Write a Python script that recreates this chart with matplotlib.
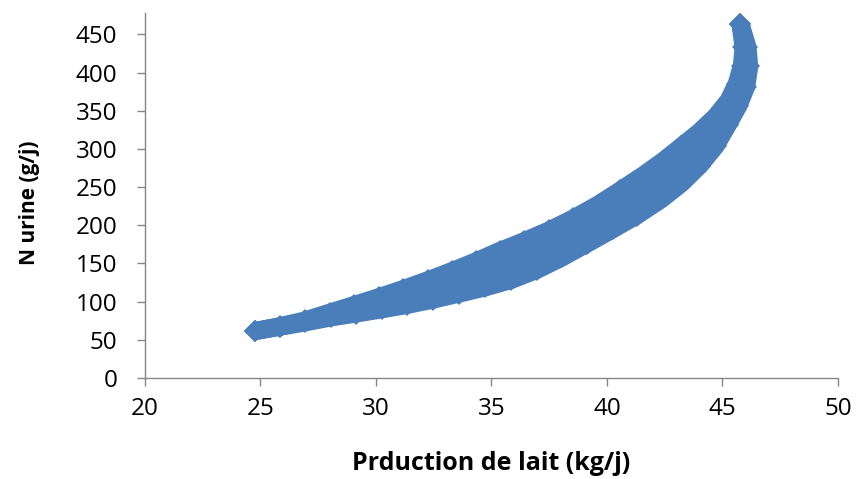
import matplotlib
matplotlib.use('Agg')
from matplotlib import pyplot as plt

# Points: the band is drawn as three rows of diamonds
# (upper edge, middle, lower edge), all meeting at both ends.
midX = [24.77, 25.85, 26.93, 28.02, 29.10, 30.18, 31.27, 32.35, 33.43, 34.52, 35.60, 36.68, 37.76,
        38.85, 39.93, 40.93, 41.97, 42.83, 43.61, 44.35, 44.96, 45.48, 45.82, 46.00, 46.00, 45.78]
midY = [61.5, 67.4, 74.0, 82.5, 90.0, 97.8, 106.1, 115.2, 125.0, 135.5, 147.3, 160.4, 175.4,
        192.5, 210.8, 229.1, 250.1, 269.7, 290.7, 312.9, 336.5, 360.0, 383.6, 408.5, 433.4, 463.5]
upX = [24.77, 25.85, 26.92, 28.00, 29.05, 30.12, 31.17, 32.23, 33.28, 34.32, 35.36, 36.42, 37.49,
       38.55, 39.62, 40.58, 41.60, 42.44, 43.22, 44.00, 44.70, 45.27, 45.62, 45.84, 45.91, 45.78]
upY = [61.5, 67.9, 75.3, 85.6, 95.5, 105.8, 116.4, 127.8, 139.9, 152.6, 166.4, 179.2, 193.2,
       209.0, 227.1, 245.7, 266.1, 284.3, 303.2, 322.2, 342.3, 363.6, 385.6, 409.0, 433.0, 463.5]
loX = [24.77, 25.85, 26.94, 28.05, 29.14, 30.24, 31.36, 32.48, 33.58, 34.71, 35.84, 36.96, 38.05,
       39.14, 40.24, 41.28, 42.35, 43.23, 44.01, 44.70, 45.22, 45.69, 46.03, 46.16, 46.08, 45.78]
loY = [61.5, 67.0, 72.8, 79.3, 84.4, 89.8, 95.7, 102.7, 110.3, 118.5, 128.2, 141.5, 157.8,
       175.9, 194.6, 212.6, 234.0, 255.1, 278.2, 303.7, 330.8, 356.5, 381.6, 408.0, 433.7, 463.5]

xTicks = [20, 25, 30, 35, 40, 45, 50]
yTicks = [0, 50, 100, 150, 200, 250, 300, 350, 400, 450]

plt.rcParams['font.family'] = ['Open Sans', 'DejaVu Sans']

fig = plt.figure(figsize=(8.57, 4.79), dpi=100)
ax = fig.add_axes([0.1692, 0.2109, 0.8086, 0.762])

blue = '#4A7EBB'
for xs, ys in [(upX, upY), (midX, midY), (loX, loY)]:
    ax.plot(xs, ys, '-D', color=blue, lw=13, ms=11.5, mew=0,
            solid_capstyle='butt', solid_joinstyle='round')

# Axis styling (Excel look)
ax.set_xlim(20, 50)
ax.set_ylim(0, 478)
ax.set_xticks(xTicks)
ax.set_yticks(yTicks)
for side in ['top', 'right']:
    ax.spines[side].set_visible(False)
for side in ['left', 'bottom']:
    ax.spines[side].set_color('#868686')
    ax.spines[side].set_linewidth(1)
ax.tick_params(axis='both', direction='out', length=6, width=1, color='#868686',
               labelsize=17.5, labelcolor='black')
ax.tick_params(axis='y', pad=14)
ax.tick_params(axis='x', pad=8)

ax.set_xlabel('Prduction de lait (kg/j)', fontsize=18, fontweight='bold', va='center')
ax.set_ylabel('N urine (g/j)', fontsize=15, fontweight='bold', va='center')
ax.xaxis.set_label_coords(0.5, -0.233)
ax.yaxis.set_label_coords(-0.166, 0.479)

fig.savefig('out.png', dpi=100)
